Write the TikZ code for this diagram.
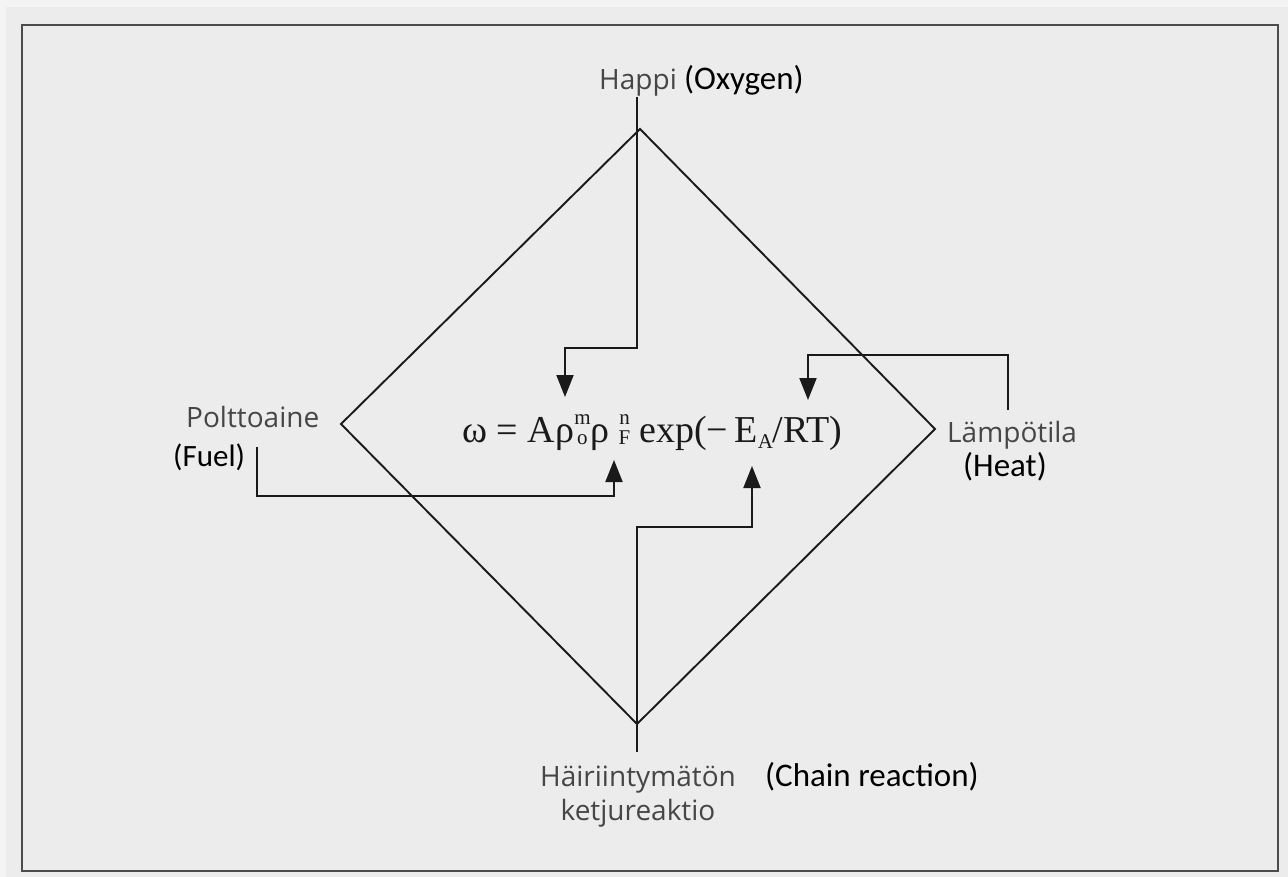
\documentclass[tikz,border=0pt]{standalone}
\usepackage{fontspec}
\setmainfont{Liberation Serif}
\newfontfamily\finfont{Open Sans}
\newfontfamily\engfont{Carlito}
\usetikzlibrary{arrows.meta}
\definecolor{paper}{HTML}{ECECEC}
\definecolor{margin}{HTML}{F4F4F4}
\definecolor{fingrey}{HTML}{464646}
\definecolor{ink}{HTML}{1A1A1A}
% stacked super/subscript pair, centred on a common column
\newcommand\stackscr[2]{{\fontsize{21}{21}\selectfont\rlap{\makebox[0.8em][c]{\raisebox{0.85em}{#1}}}\makebox[0.8em][c]{\raisebox{-0.1em}{#2}}}}
\begin{document}
\begin{tikzpicture}[x=1pt,y=-1pt,
  fin/.style={font=\finfont\fontsize{28}{32}\selectfont, text=fingrey, inner sep=0pt},
  eng/.style={font=\engfont\fontsize{33}{36}\selectfont, text=black, inner sep=0pt},
  frm/.style={font=\fontsize{38}{40}\selectfont, text=ink, inner sep=0pt},
  edge/.style={draw=ink, line width=1.9pt},
  feed/.style={draw=ink, line width=1.9pt, -{Triangle[width=17pt,length=22pt]}},
  frame/.style={draw=black!70, line width=1.6pt}]
\useasboundingbox (0,0) rectangle (1288,877);
\fill[margin] (0,0) rectangle (1288,877);
\fill[paper] (6,7) rectangle (1288,877);
\draw[frame] (22,25) rectangle (1278,871);

% diamond corners
\coordinate (top) at (640,129);
\coordinate (left) at (341,424);
\coordinate (right) at (935,429);
\coordinate (bottom) at (637,724);
\draw[edge, line join=miter] (top) -- (right) -- (bottom) -- (left) -- cycle;

% labels
\node[fin, anchor=base west] (happi) at (599,90) {Happi {\engfont\fontsize{33}{36}\selectfont\color{black}(Oxygen)}};
\node[fin, anchor=base west] (fuel) at (186,427) {Polttoaine};
\node[eng, anchor=base west, font=\engfont\fontsize{31}{34}\selectfont] (fueleng) at (173,466) {(Fuel)};
\node[fin, anchor=base west] (heat) at (947,442) {Lämpötila};
\node[eng, anchor=base west] (heateng) at (963,476) {(Heat)};
\node[fin, anchor=base] (chain) at (638,786) {Häiriintymätön};
\node[fin, anchor=base] (chain2) at (638,820) {ketjureaktio};
\node[eng, anchor=base west] (chaineng) at (765,786) {(Chain reaction)};

% reaction rate expression
\node[frm, anchor=base west] (rate) at (462,442)
  {ω = Aρ\stackscr{m}{o}ρ\,\stackscr{n}{F}\,exp(−\,E{\fontsize{21}{21}\selectfont\raisebox{-0.3em}{A}}/RT)};

% arrow targets on the expression
\coordinate (oxtip) at (565,397);
\coordinate (heattip) at (808,400);
\coordinate (fueltip) at (614,460);
\coordinate (chaintip) at (752,466);

% feeds into the expression
\draw[feed] (happi.south -| 637,0) -- (637,348) -- (565,348) -- (oxtip);
\draw[feed] (1008,410) -- (1008,355) -- (808,355) -- (heattip);
\draw[feed] (257,447) -- (257,496) -- (614,496) -- (fueltip);
\draw[feed] (637,752) -- (637,527) -- (752,527) -- (chaintip);
\end{tikzpicture}
\end{document}
